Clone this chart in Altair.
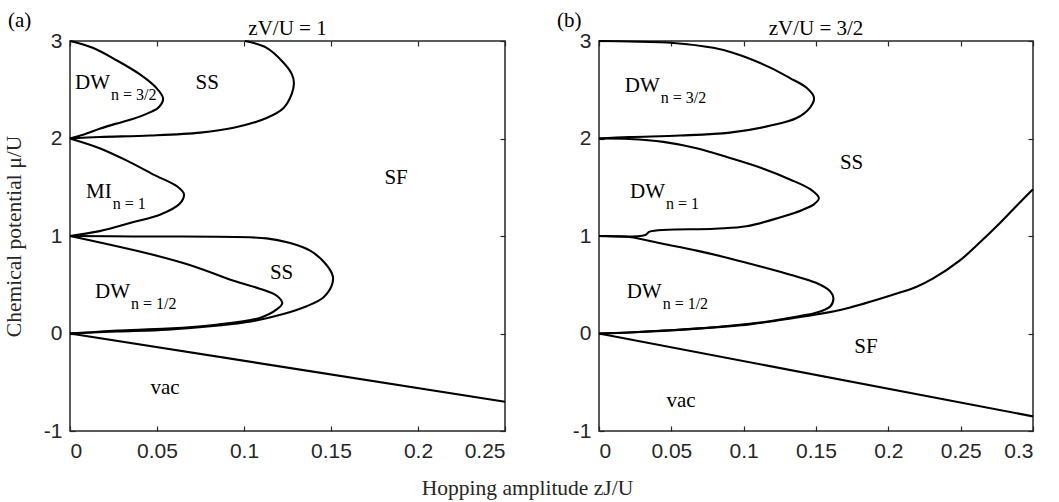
import altair as alt
import pandas as pd

# ---------------- Panel (a): zV/U = 1 ----------------
a_dw32_x = [0, 0.013, 0.027, 0.040, 0.049, 0.0535, 0.051, 0.045, 0.036, 0.026, 0.017, 0.008, 0]
a_dw32_y = [3, 2.93, 2.80, 2.66, 2.53, 2.41, 2.32, 2.26, 2.20, 2.15, 2.10, 2.04, 2]
a_sstop_x = [0.1006, 0.113, 0.1226, 0.1275, 0.1287, 0.1275, 0.1226, 0.113, 0.094, 0.075, 0.046, 0.017, 0]
a_sstop_y = [3, 2.93, 2.78, 2.66, 2.57, 2.46, 2.31, 2.21, 2.11, 2.06, 2.03, 2.015, 2]
a_mi1_x = [0, 0.017, 0.033, 0.048, 0.0615, 0.0655, 0.063, 0.052, 0.036, 0.017, 0]
a_mi1_y = [2, 1.90, 1.77, 1.63, 1.51, 1.43, 1.33, 1.22, 1.14, 1.05, 1]
a_dw12_x = [0, 0.046, 0.071, 0.094, 0.109, 0.119, 0.122, 0.119, 0.109, 0.084, 0.056, 0.027, 0.010, 0]
a_dw12_y = [1, 0.815, 0.69, 0.54, 0.46, 0.385, 0.31, 0.25, 0.16, 0.09, 0.05, 0.03, 0.01, 0]
a_ssbot_x = [0, 0.036, 0.113, 0.126, 0.138, 0.1466, 0.151, 0.1504, 0.1456, 0.136, 0.1226, 0.103, 0.084, 0.056, 0.027, 0]
a_ssbot_y = [1, 0.995, 0.976, 0.93, 0.85, 0.72, 0.59, 0.49, 0.37, 0.28, 0.20, 0.12, 0.08, 0.04, 0.02, 0]
a_vac_x = [0, 0.25]
a_vac_y = [0, -0.70]

a_center_text = ["SS", "SF", "SS", "vac"]
a_center_x = [0.0789, 0.1874, 0.1216, 0.0546]
a_center_y = [2.504, 1.53, 0.556, -0.624]
a_phase_text = ["DW", "MI", "DW"]
a_phase_sub = ["n = 3/2", "n = 1", "n = 1/2"]
a_phase_x = [0.023, 0.024, 0.0345]
a_phase_y = [2.504, 1.393, 0.362]
a_xticks = [0, 0.05, 0.1, 0.15, 0.2, 0.25]

# ---------------- Panel (b): zV/U = 3/2 ----------------
b_dw32_x = [0, 0.021, 0.0514, 0.079, 0.0925, 0.102, 0.118, 0.132, 0.1435, 0.1486, 0.146, 0.1366, 0.118, 0.0905, 0.056, 0.021, 0]
b_dw32_y = [3, 2.995, 2.98, 2.93, 2.88, 2.83, 2.73, 2.62, 2.52, 2.42, 2.32, 2.21, 2.13, 2.06, 2.03, 2.015, 2]
b_dw1_x = [0, 0.021, 0.0445, 0.0675, 0.0905, 0.1136, 0.132, 0.146, 0.152, 0.149, 0.141, 0.125, 0.102, 0.080, 0.035, 0.032, 0]
b_dw1_y = [2, 1.995, 1.965, 1.90, 1.80, 1.69, 1.58, 1.48, 1.39, 1.33, 1.27, 1.19, 1.10, 1.075, 1.045, 1.01, 1]
b_dw12_x = [0, 0.021, 0.044, 0.0675, 0.0905, 0.1136, 0.133, 0.150, 0.1596, 0.162, 0.160, 0.150, 0.139, 0.113, 0.0905, 0.0675, 0.044, 0.021, 0]
b_dw12_y = [1, 0.99, 0.92, 0.85, 0.77, 0.68, 0.60, 0.52, 0.436, 0.367, 0.28, 0.213, 0.18, 0.115, 0.08, 0.05, 0.03, 0.01, 0]
b_sssf_x = [0, 0.021, 0.0675, 0.104, 0.137, 0.150, 0.173, 0.208, 0.2196, 0.231, 0.2495, 0.263, 0.277, 0.2887, 0.30]
b_sssf_y = [0, 0.01, 0.05, 0.094, 0.165, 0.194, 0.265, 0.42, 0.48, 0.565, 0.75, 0.93, 1.13, 1.31, 1.48]
b_vac_x = [0, 0.3]
b_vac_y = [0, -0.85]

b_center_text = ["SS", "SF", "vac"]
b_center_x = [0.1746, 0.1845, 0.0567]
b_center_y = [1.684, -0.197, -0.754]
b_phase_text = ["DW", "DW", "DW"]
b_phase_sub = ["n = 3/2", "n = 1", "n = 1/2"]
b_phase_x = [0.042, 0.0456, 0.0433]
b_phase_y = [2.48, 1.393, 0.367]
b_xticks = [0, 0.05, 0.1, 0.15, 0.2, 0.25, 0.3]

yticks = [-1, 0, 1, 2, 3]

H = 390
AXC = "#262626"
SERIF = "Liberation Serif"
SANS = "Liberation Sans"


def curves_df(curves):
    rows = []
    for name, (xs, ys) in curves.items():
        for i, (x, y) in enumerate(zip(xs, ys)):
            rows.append({"curve": name, "i": i, "x": x, "y": y})
    return pd.DataFrame(rows)


def tick_axis(orient, offset, values):
    return alt.Axis(orient=orient, offset=offset, values=values, labels=False,
                    domain=False, ticks=True, tickSize=5, tickWidth=1.2,
                    tickColor=AXC, grid=False, title=None)


def panel(curves, ctext, cx, cy, ptext, psub, px, py, xmax, xticks, W, tag, ttl, first):
    xs = alt.Scale(domain=[0, xmax], nice=False, zero=False)
    ys = alt.Scale(domain=[-1, 3], nice=False, zero=False)
    lines_df = curves_df(curves)
    cdf = pd.DataFrame({"t": ctext, "x": cx, "y": cy})
    pdf = pd.DataFrame({"t": ptext, "s": psub, "x": px, "y": py})

    xaxis_kw = dict(orient="bottom", values=xticks, labelExpr="'' + datum.value",
                    ticks=False, tickSize=0, labelPadding=9, domain=False, grid=False,
                    labelFont=SANS, labelFontSize=21, labelColor=AXC)
    if first:
        xaxis_kw.update(title="Hopping amplitude zJ/U", titleX=457, titleY=63,
                        titleAlign="center", titleBaseline="alphabetic",
                        titleFont=SERIF, titleFontSize=21.5, titleFontWeight="normal",
                        titleColor=AXC)
    else:
        xaxis_kw.update(title=None)
    yaxis_kw = dict(orient="left", values=yticks, labelExpr="'' + datum.value",
                    ticks=False, tickSize=0, labelPadding=8, domain=False, grid=False,
                    labelFont=SANS, labelFontSize=21, labelColor=AXC)
    if first:
        yaxis_kw.update(title="Chemical potential \u03bc/U", titlePadding=18,
                        titleFont=SERIF, titleFontSize=21.5, titleFontWeight="normal",
                        titleColor=AXC)
    else:
        yaxis_kw.update(title=None)

    lines = alt.Chart(lines_df).mark_line(color="black", strokeWidth=2.1,
                                          interpolate="catmull-rom").encode(
        x=alt.X("x:Q", scale=xs, axis=alt.Axis(**xaxis_kw)),
        y=alt.Y("y:Q", scale=ys, axis=alt.Axis(**yaxis_kw)),
        detail="curve:N",
        order="i:Q",
    )
    centers = alt.Chart(cdf).mark_text(font=SERIF, fontSize=21, color="black",
                                       align="center", baseline="alphabetic").encode(
        x=alt.X("x:Q", scale=xs, axis=tick_axis("top", -H, xticks)),
        y=alt.Y("y:Q", scale=ys, axis=tick_axis("right", -W, yticks)),
        text="t:N",
    )
    mains = alt.Chart(pdf).mark_text(font=SERIF, fontSize=21, color="black",
                                     align="right", baseline="alphabetic").encode(
        x=alt.X("x:Q", scale=xs, axis=tick_axis("bottom", -H, xticks)),
        y=alt.Y("y:Q", scale=ys, axis=tick_axis("left", -W, yticks)),
        text="t:N",
    )
    subs = alt.Chart(pdf).mark_text(font=SERIF, fontSize=16, color="black",
                                    align="left", baseline="alphabetic", dx=1, dy=11).encode(
        x=alt.X("x:Q", scale=xs, axis=None),
        y=alt.Y("y:Q", scale=ys, axis=None),
        text="s:N",
    )
    tagm = alt.Chart(pd.DataFrame({"t": [tag]})).mark_text(
        font=SERIF, fontSize=21, color="black", align="left", baseline="middle").encode(
        x=alt.value(-62 if first else -42), y=alt.value(-20), text="t:N")
    ttlm = alt.Chart(pd.DataFrame({"t": [ttl]})).mark_text(
        font=SERIF, fontSize=21, color="black", align="center", baseline="alphabetic").encode(
        x=alt.value(W / 2), y=alt.value(-6), text="t:N")

    return alt.layer(lines, centers, mains, subs, tagm, ttlm).resolve_axis(
        x="independent", y="independent").properties(width=W, height=H)


pa = panel({"dw32": (a_dw32_x, a_dw32_y), "sstop": (a_sstop_x, a_sstop_y),
            "mi1": (a_mi1_x, a_mi1_y), "dw12": (a_dw12_x, a_dw12_y),
            "ssbot": (a_ssbot_x, a_ssbot_y), "vac": (a_vac_x, a_vac_y)},
           a_center_text, a_center_x, a_center_y,
           a_phase_text, a_phase_sub, a_phase_x, a_phase_y,
           0.25, a_xticks, 435, "(a)", "zV/U = 1", True)

pb = panel({"dw32": (b_dw32_x, b_dw32_y), "dw1": (b_dw1_x, b_dw1_y),
            "dw12": (b_dw12_x, b_dw12_y), "sssf": (b_sssf_x, b_sssf_y),
            "vac": (b_vac_x, b_vac_y)},
           b_center_text, b_center_x, b_center_y,
           b_phase_text, b_phase_sub, b_phase_x, b_phase_y,
           0.3, b_xticks, 434, "(b)", "zV/U = 3/2", False)

chart = alt.hconcat(pa, pb, spacing=94, bounds="flush").properties(
    padding={"left": 2, "top": 9, "right": 5, "bottom": 2},
    background="white",
).configure_view(stroke=AXC, strokeWidth=1.5)

chart.save("out.html", embed_options={"renderer": "svg", "actions": False})
